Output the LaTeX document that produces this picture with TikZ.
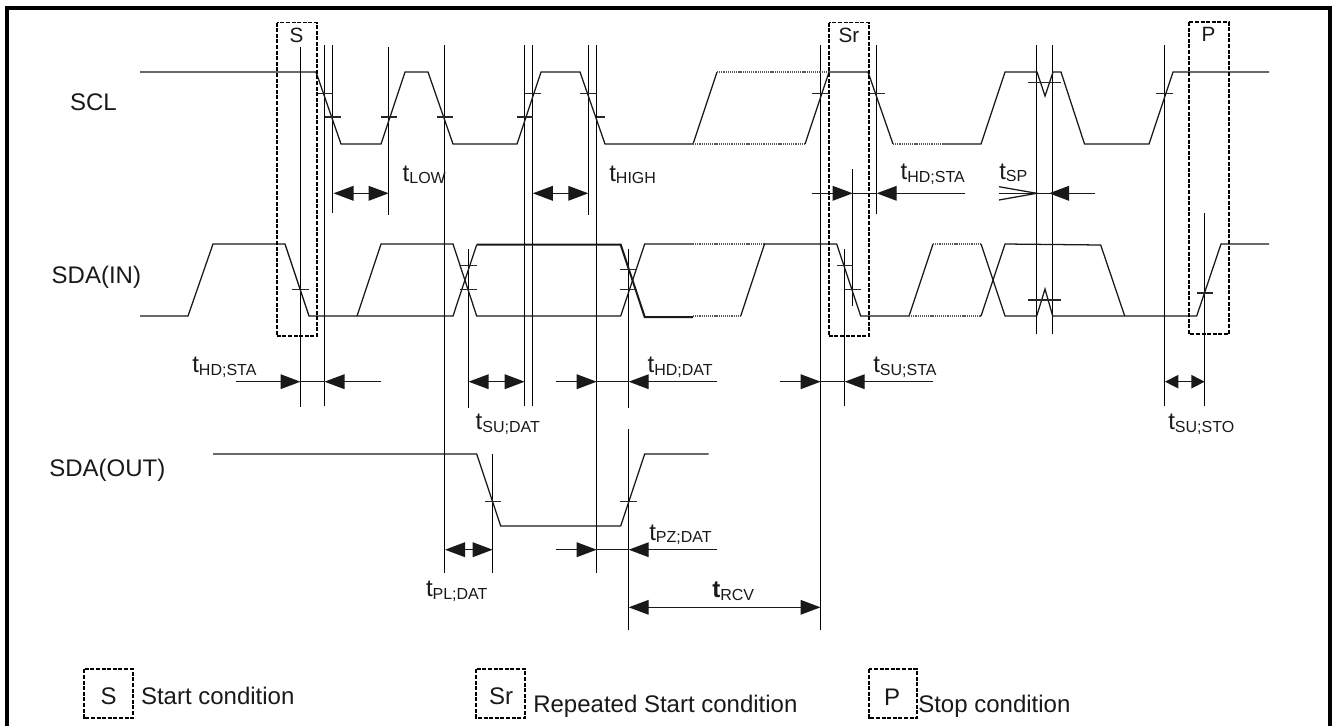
\documentclass[tikz,border=0pt]{standalone}
\usepackage{fontspec}
\setmainfont{Liberation Sans}
\usetikzlibrary{arrows.meta}
\newcommand{\tsb}[2][t]{#1\raisebox{-2.2pt}{\fontsize{12}{12}\selectfont #2}}
\tikzset{
  x=0.75pt,y=-0.75pt,
  sig/.style={line width=0.95pt,line join=miter,color=black!90},
  bold sig/.style={line width=1.5pt,color=black!90},
  dotsig/.style={line width=0.8pt,color=black!65,dash pattern=on 0.9pt off 0.7pt},
  vline/.style={line width=0.95pt,color=black},
  tick/.style={line width=0.95pt,color=black!85},
  dim/.style={line width=0.95pt,color=black!90},
  rhead/.style={-{Triangle[length=15pt,width=11pt]}},
  lrhead/.style={{Triangle[length=15pt,width=11pt]}-{Triangle[length=15pt,width=11pt]}},
  lrsmall/.style={{Triangle[length=10pt,width=10pt]}-{Triangle[length=10pt,width=10pt]}},
  condbox/.style={draw=black,line width=1.3pt,dash pattern=on 3pt off 1.2pt},
  lbl/.style={inner sep=0pt,outer sep=0pt,anchor=base west,font=\fontsize{18}{18}\selectfont,text=black!90},
  toplbl/.style={inner sep=0pt,outer sep=0pt,anchor=base,font=\fontsize{15.5}{16}\selectfont,text=black!90},
}
\begin{document}
\begin{tikzpicture}
\useasboundingbox (0,0) rectangle (1336,726);
% frame (open at the bottom edge of the picture)
\draw[line width=3pt,color=black] (7,726) -- (7,8) -- (1330,8) -- (1330,726);

% vertical reference lines
\foreach \x/\a/\b in {
  300.5/47/407, 324.5/45/406, 332.6/45/213, 388.7/47/215, 444.3/45/573,
  524.7/45/406, 532.6/45/406, 588.3/45/215, 596.7/45/573, 820.7/45/630,
  852.7/169/306, 876.7/45/214, 628.7/249/408, 628.7/429/630, 844.7/249/406,
  468.3/249/408, 492.7/454/573, 1036.7/45/334, 1052.7/45/334,
  1164.7/45/406, 1204.7/213/406}
  \draw[vline] (\x,\a) -- (\x,\b);

% SCL
\draw[sig] (140,72) -- (316,72) -- (341,144) -- (381,144) -- (405,72) -- (428,72) -- (453,144)
  -- (517,144) -- (541,72) -- (580,72) -- (605,144) -- (693,144) -- (717,72);
\draw[dotsig] (717,72) -- (829,72);
\draw[dotsig] (693,144) -- (805,144);
\draw[sig] (805,144) -- (829,72) -- (868,72) -- (893,144);
\draw[dotsig] (893,144) -- (943,144);
\draw[sig] (943,144) -- (981,144) -- (1005,72) -- (1037,72) -- (1045,96) -- (1053,72) -- (1061,72)
  -- (1084.5,144) -- (1149,144) -- (1173,72) -- (1269,72);

% SDA(IN)
\draw[sig] (140,316) -- (188,316) -- (213,244) -- (285,244) -- (309,316) -- (453,316) -- (476.7,244.7);
\draw[sig] (357,316) -- (381,244) -- (453,244) -- (476.7,316) -- (620.7,316) -- (644.7,244) -- (693,244);
\draw[bold sig] (476.7,244.7) -- (620.7,244.7) -- (644.7,317) -- (693,317);
\draw[dotsig] (693,244) -- (764.5,244);
\draw[dotsig] (693,316) -- (740.7,316);
\draw[sig] (740.7,316) -- (764.5,244) -- (836.7,244) -- (860.7,316) -- (909,316) -- (933,244);
\draw[dotsig] (933,244) -- (981,244);
\draw[dotsig] (909,316) -- (981,316);
\draw[sig] (981,244) -- (1005,316) -- (1036.7,316) -- (1045,289) -- (1052.7,316) -- (1196.7,316) -- (1221,244) -- (1269,244);
\draw[sig] (981,316) -- (1005,244) -- (1100.7,245) -- (1124.7,316);

% SDA(OUT)
\draw[sig] (213,454) -- (476.7,454) -- (500.7,526) -- (620.7,526) -- (644.7,454) -- (708.7,454);

% level ticks
\foreach \a/\b/\y in {
  317/332.6/93.5, 324.5/341/117, 380.5/397/117, 436.5/453/117, 525/541/93.5, 516.5/532.7/117,
  580/596.5/93.5, 596.5/605/117, 812.3/829/93.5, 868/885/93.5, 1028.3/1061/82.7, 1156/1172.7/93.5,
  292.3/309/289.5, 460/476.7/265.3, 460/476.7/289.5, 620/637/269.5, 620/637/289.5,
  836.7/852.7/265.3, 845/861/289.5, 1028.3/1061/300, 1196.7/1213/293,
  484.7/500.7/501.3, 620/637/501.3}
  \draw[tick] (\a,\y) -- (\b,\y);

% condition boxes
\draw[condbox] (276.7,22.5) rectangle (317,336);
\draw[condbox] (828.7,22.5) rectangle (869,336);
\draw[condbox] (1188.7,22) rectangle (1229,334);
\draw[condbox] (83.7,669.3) rectangle (132.7,718);
\draw[condbox] (476.3,669.3) rectangle (525,718);
\draw[condbox] (868.7,669.3) rectangle (917,718);

% dimension arrows
\draw[dim,lrhead] (333.5,193.3) -- (388.7,193.3);
\draw[dim,lrhead] (532.8,193.3) -- (588.3,193.3);
\draw[dim,rhead] (812,193.3) -- (852.7,193.3);
\draw[dim] (852.7,193.3) -- (876.7,193.3);
\draw[dim,rhead] (965,193.3) -- (876.7,193.3);
\draw[dim] (999,193.3) -- (1052.7,193.3);
\draw[dim] (999,186.7) -- (1036.7,193.3) -- (999,200);
\draw[dim,rhead] (1095,193.3) -- (1049,193.3);

\draw[dim,rhead] (236,381.7) -- (300.5,381.7);
\draw[dim] (300.5,381.7) -- (324.5,381.7);
\draw[dim,rhead] (381,381.7) -- (324.5,381.7);
\draw[dim,lrhead] (468.6,381.7) -- (524.7,381.7);
\draw[dim,rhead] (556,381.7) -- (596.7,381.7);
\draw[dim] (596.7,381.7) -- (628.7,381.7);
\draw[dim,rhead] (717,381.7) -- (628.7,381.7);
\draw[dim,rhead] (780,381.7) -- (820.7,381.7);
\draw[dim] (820.7,381.7) -- (844.7,381.7);
\draw[dim,rhead] (933,381.7) -- (844.7,381.7);
\draw[dim,lrsmall] (1165,381.7) -- (1204.7,381.7);

\draw[dim,lrhead] (445,549.7) -- (492.7,549.7);
\draw[dim,rhead] (556,549.7) -- (596.7,549.7);
\draw[dim] (596.7,549.7) -- (628.7,549.7);
\draw[dim,rhead] (717,549.7) -- (628.7,549.7);
\draw[dim,lrhead] (628.7,607.3) -- (820.5,607.3);

% signal names
\node[lbl] (nscl) at (70,110) {SCL};
\node[lbl] (nsdain) at (51.7,283.3) {SDA(IN)};
\node[lbl] (nsdaout) at (49.3,476.7) {SDA(OUT)};

% condition labels
\node[toplbl] (ls) at (296.5,42.7) {S};
\node[toplbl] (lsr) at (849,42.7) {Sr};
\node[toplbl] (lp) at (1208.5,41.8) {P};

% timing labels
\node[lbl] (tlow) at (402.7,181) {\tsb{LOW}};
\node[lbl] (thigh) at (609.3,181) {\tsb{HIGH}};
\node[lbl] (thdsta2) at (900.7,179.5) {\tsb{HD;STA}};
\node[lbl] (tsp) at (999.3,179) {\tsb{SP}};
\node[lbl] (thdsta) at (192.3,372.5) {\tsb{HD;STA}};
\node[lbl] (tsudat) at (475.7,429.5) {\tsb{SU;DAT}};
\node[lbl] (thddat) at (647.7,372.5) {\tsb{HD;DAT}};
\node[lbl] (tsusta) at (873.3,372.5) {\tsb{SU;STA}};
\node[lbl] (tsusto) at (1168.3,429.5) {\tsb{SU;STO}};
\node[lbl] (tpldat) at (426,596.5) {\tsb{PL;DAT}};
\node[lbl] (tpzdat) at (649.3,540) {\tsb{PZ;DAT}};
\node[lbl] (trcv) at (712.3,597.3) {\tsb[\textbf{t}]{RCV}};

% legend
\node[lbl] (legs) at (100.5,704) {S};
\node[lbl] (legstart) at (141,704) {Start condition};
\node[lbl] (legsr) at (489,704) {Sr};
\node[lbl] (legrep) at (533.3,712.7) {Repeated Start condition};
\node[lbl] (legp) at (884,705) {P};
\node[lbl] (legstop) at (918.3,712.7) {Stop condition};
\end{tikzpicture}
\end{document}
